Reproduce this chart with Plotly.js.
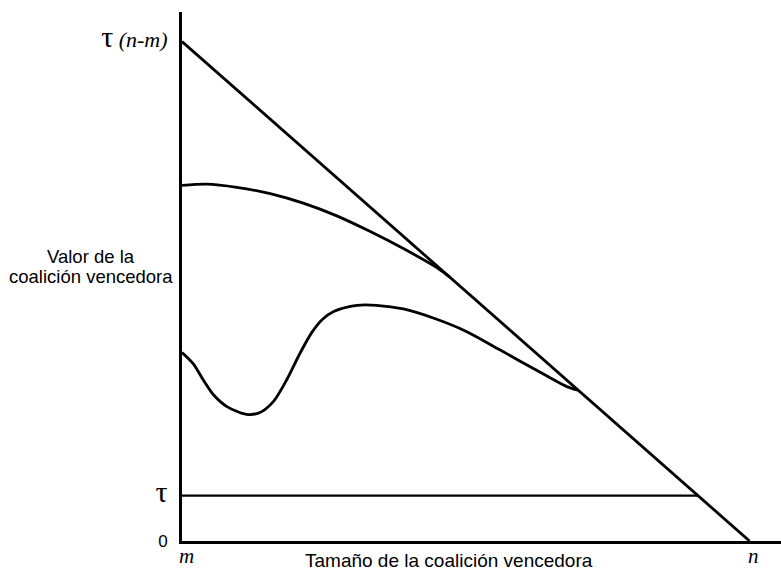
<!DOCTYPE html>
<html>
<head>
<meta charset="utf-8">
<script src="https://cdn.plot.ly/plotly-3.0.1.min.js"></script>
<style>
  html, body { margin: 0; padding: 0; background: #fff; }
  #chart { width: 781px; height: 570px; }
</style>
</head>
<body>
<div id="chart"></div>
<script>
// Coalition size axis: m = 0, n = 11 (n - m = 11); value axis in units of tau
const xTickVals = [0, 11];
const xTickText = ['m', 'n'];
const yTickVals = [0, 1, 11];
const yTickText = [
  '0',
  '<span style="font-family:Liberation Serif;font-size:30px">τ</span>',
  '<span style="font-family:Liberation Serif;font-size:30px">τ</span><span style="font-family:Liberation Serif;font-size:22px"> <i>(n-m)</i></span>'
];

// Maximum value line tau*(n - s)
const diagX = [0, 11];
const diagY = [11, 0];

// Constant value tau
const tauX = [0, 10];
const tauY = [1, 1];

// Upper concave curve (meets the diagonal)
const upperX = [0, 0.48, 1.06, 1.71, 2.35, 3.0, 3.64, 4.29, 4.94, 5.19];
const upperY = [7.83, 7.86, 7.79, 7.65, 7.44, 7.16, 6.82, 6.44, 6.02, 5.81];

// Lower wavy curve
const lowerX = [0, 0.22, 0.41, 0.61, 0.87, 1.25, 1.51, 1.77, 2.03, 2.29, 2.52, 2.72, 2.95, 3.39, 3.77, 4.29, 4.87, 5.52, 6.16, 6.81, 7.46, 7.68];
const lowerY = [4.15, 3.90, 3.55, 3.22, 2.96, 2.79, 2.83, 3.07, 3.55, 4.14, 4.60, 4.88, 5.06, 5.19, 5.19, 5.11, 4.91, 4.61, 4.21, 3.80, 3.40, 3.32];

const black = '#000';
const traces = [
  { x: diagX, y: diagY, mode: 'lines', line: { color: black, width: 2.8 }, hoverinfo: 'skip' },
  { x: tauX, y: tauY, mode: 'lines', line: { color: black, width: 2.2 }, hoverinfo: 'skip' },
  { x: upperX, y: upperY, mode: 'lines', line: { color: black, width: 2.8, shape: 'spline', smoothing: 0.8 }, hoverinfo: 'skip' },
  { x: lowerX, y: lowerY, mode: 'lines', line: { color: black, width: 2.8, shape: 'spline', smoothing: 0.8 }, hoverinfo: 'skip' }
];

const sans = 'Liberation Sans, Arial, sans-serif';
const serif = 'Liberation Serif, Times New Roman, serif';

const annotations = [
  { text: 'Valor de la', xref: 'paper', yref: 'paper', x: -0.152, y: 0.5374,
    xanchor: 'center', yanchor: 'middle', showarrow: false,
    font: { family: sans, size: 18.5, color: black } },
  { text: 'coalición vencedora', xref: 'paper', yref: 'paper', x: -0.152, y: 0.4996,
    xanchor: 'center', yanchor: 'middle', showarrow: false,
    font: { family: sans, size: 18.5, color: black } },
  { text: 'Tamaño de la coalición vencedora', xref: 'paper', yref: 'paper', x: 0.4457, y: -0.0378,
    xanchor: 'center', yanchor: 'middle', showarrow: false,
    font: { family: sans, size: 19, color: black } }
];
// x-axis category labels m and n, placed at their axis values
xTickVals.forEach((v, i) => {
  annotations.push({
    text: '<i>' + xTickText[i] + '</i>', xref: 'x', yref: 'paper', x: v, y: -0.0525,
    xanchor: 'center', yanchor: 'bottom', xshift: 4, showarrow: false, borderpad: 0,
    font: { family: serif, size: 21, color: black }
  });
});

const layout = {
  width: 781,
  height: 570,
  margin: { l: 182, r: 0, t: 12, b: 29, pad: 0 },
  paper_bgcolor: '#fff',
  plot_bgcolor: '#fff',
  showlegend: false,
  xaxis: {
    range: [0, 11.61],
    tickvals: xTickVals,
    showticklabels: false,
    ticks: '',
    showgrid: false,
    zeroline: false,
    showline: true,
    linecolor: black,
    linewidth: 3
  },
  yaxis: {
    range: [0, 11.65],
    tickvals: yTickVals,
    ticktext: yTickText,
    ticks: '',
    showgrid: false,
    zeroline: false,
    showline: true,
    linecolor: black,
    linewidth: 3,
    ticklabelstandoff: 8,
    tickfont: { family: sans, size: 17, color: black }
  },
  annotations: annotations
};

Plotly.newPlot('chart', traces, layout, { staticPlot: true, displayModeBar: false });
</script>
</body>
</html>
